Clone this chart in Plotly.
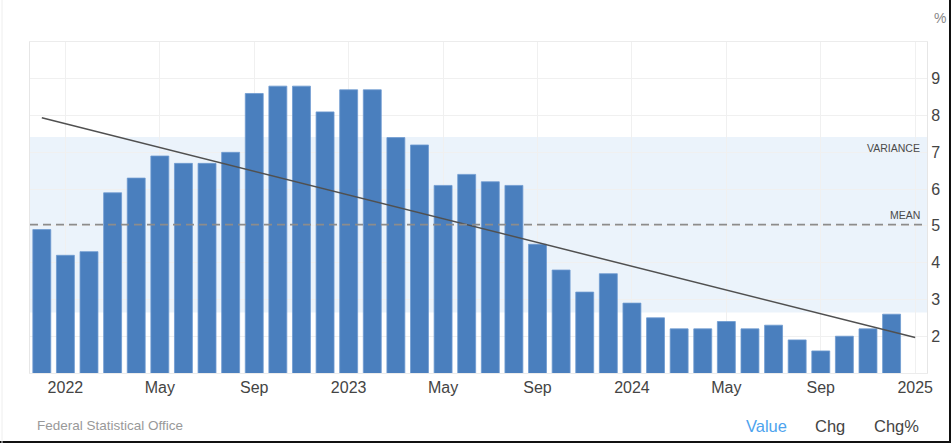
import numpy as np
import plotly.graph_objects as go

# ---- data ----
months = [
    "Dec 2021",
    "Jan 2022", "Feb 2022", "Mar 2022", "Apr 2022", "May 2022", "Jun 2022",
    "Jul 2022", "Aug 2022", "Sep 2022", "Oct 2022", "Nov 2022", "Dec 2022",
    "Jan 2023", "Feb 2023", "Mar 2023", "Apr 2023", "May 2023", "Jun 2023",
    "Jul 2023", "Aug 2023", "Sep 2023", "Oct 2023", "Nov 2023", "Dec 2023",
    "Jan 2024", "Feb 2024", "Mar 2024", "Apr 2024", "May 2024", "Jun 2024",
    "Jul 2024", "Aug 2024", "Sep 2024", "Oct 2024", "Nov 2024", "Dec 2024",
]
values = [
    4.9,
    4.2, 4.3, 5.9, 6.3, 6.9, 6.7, 6.7, 7.0, 8.6, 8.8, 8.8, 8.1,
    8.7, 8.7, 7.4, 7.2, 6.1, 6.4, 6.2, 6.1, 4.5, 3.8, 3.2, 3.7,
    2.9, 2.5, 2.2, 2.2, 2.4, 2.2, 2.3, 1.9, 1.6, 2.0, 2.2, 2.6,
]
tick_months = ["Jan 2022", "May 2022", "Sep 2022", "Jan 2023", "May 2023",
               "Sep 2023", "Jan 2024", "May 2024", "Sep 2024", "Jan 2025"]
tick_labels = ["2022", "May", "Sep", "2023", "May", "Sep", "2024", "May", "Sep", "2025"]
y_ticks = [2, 3, 4, 5, 6, 7, 8, 9]

# ---- derived ----
all_months = months + ["Jan 2025"]
x = np.arange(len(values))
tick_pos = [all_months.index(m) for m in tick_months]
arr = np.array(values)
mean = arr.mean()
std = arr.std()
slope, icpt = np.polyfit(x, arr, 1)
trend_x = [0, len(values)]
trend_y = [icpt + slope * t for t in trend_x]

W, H = 951, 443
L, R, T, B = 30, 24, 42, 70
PW, PH = W - L - R, H - T - B


def px(xp):
    return (xp - L) / PW


def py(yp):
    return (H - B - yp) / PH


FONT = "Liberation Sans, Arial, sans-serif"

fig = go.Figure()
fig.add_trace(go.Bar(
    x=x, y=values, customdata=months,
    marker=dict(color="#4a7fbe", line=dict(color="#6f9bd0", width=0.8)),
    hovertemplate="%{customdata}: %{y}%<extra></extra>",
    showlegend=False,
))
fig.add_trace(go.Scatter(
    x=trend_x, y=trend_y, mode="lines",
    line=dict(color="#505050", width=1.5),
    hoverinfo="skip", showlegend=False,
))

shapes = [
    dict(type="rect", xref="paper", yref="y", x0=0, x1=1, y0=mean - std, y1=mean + std,
         fillcolor="#ebf3fb", line=dict(width=0), layer="below"),
    dict(type="line", xref="paper", yref="y", x0=0, x1=1, y0=mean, y1=mean,
         line=dict(color="#8c8c8c", width=1.8, dash="8px,5px"), layer="above"),
    # outer frame edges of the screenshot
    dict(type="line", xref="paper", yref="paper", x0=px(0), x1=px(W), y0=py(442), y1=py(442),
         line=dict(color="#111111", width=2)),
    dict(type="line", xref="paper", yref="paper", x0=px(950), x1=px(950), y0=py(0), y1=py(H),
         line=dict(color="#111111", width=2)),
    dict(type="line", xref="paper", yref="paper", x0=px(2), x1=px(2), y0=py(0), y1=py(H),
         line=dict(color="#eeeeee", width=1)),
]

annotations = [
    dict(text="VARIANCE", xref="paper", yref="y", x=1, y=mean + std, xanchor="right",
         yanchor="top", xshift=-5, yshift=-3, showarrow=False,
         font=dict(family=FONT, size=10.5, color="#4a4a4a")),
    dict(text="MEAN", xref="paper", yref="y", x=1, y=mean, xanchor="right",
         yanchor="bottom", xshift=-5, yshift=2, showarrow=False,
         font=dict(family=FONT, size=10.5, color="#4a4a4a")),
    dict(text="%", xref="paper", yref="paper", x=px(940), y=py(18), xanchor="center",
         yanchor="middle", showarrow=False, font=dict(family=FONT, size=14, color="#888888")),
    dict(text="Federal Statistical Office", xref="paper", yref="paper", x=px(35), y=py(425),
         xanchor="left", yanchor="middle", showarrow=False,
         font=dict(family=FONT, size=13.5, color="#999999")),
    dict(text="Value", xref="paper", yref="paper", x=px(766), y=py(426), xanchor="center",
         yanchor="middle", showarrow=False, font=dict(family=FONT, size=16.5, color="#4da3ee")),
    dict(text="Chg", xref="paper", yref="paper", x=px(830), y=py(426), xanchor="center",
         yanchor="middle", showarrow=False, font=dict(family=FONT, size=16.5, color="#444444")),
    dict(text="Chg%", xref="paper", yref="paper", x=px(896), y=py(426), xanchor="center",
         yanchor="middle", showarrow=False, font=dict(family=FONT, size=16.5, color="#444444")),
]

fig.update_layout(
    width=W, height=H,
    margin=dict(l=L, r=R, t=T, b=B, pad=0, autoexpand=False),
    paper_bgcolor="white", plot_bgcolor="white",
    font=dict(family=FONT),
    bargap=0.24,
    shapes=shapes,
    annotations=annotations,
    xaxis=dict(
        range=[-0.5, len(values) + 0.5], tickmode="array", tickvals=tick_pos, ticktext=tick_labels,
        showgrid=True, gridcolor="#f0f0f0", gridwidth=1, zeroline=False, automargin=False,
        showline=True, mirror=True, linecolor="#ececec", linewidth=1,
        ticks="", tickfont=dict(family=FONT, size=16, color="#444444"),
    ),
    yaxis=dict(
        range=[1, 10], side="right", tickmode="array", tickvals=y_ticks,
        showgrid=True, gridcolor="#f0f0f0", gridwidth=1, zeroline=False, automargin=False,
        showline=True, mirror=True, linecolor="#e6e6e6", linewidth=1,
        ticks="", tickfont=dict(family=FONT, size=16, color="#444444"),
    ),
)

fig.write_html(
    "out.html",
    config={"displayModeBar": False},
    post_script="document.body.style.margin='0';document.body.style.overflow='hidden';",
)
